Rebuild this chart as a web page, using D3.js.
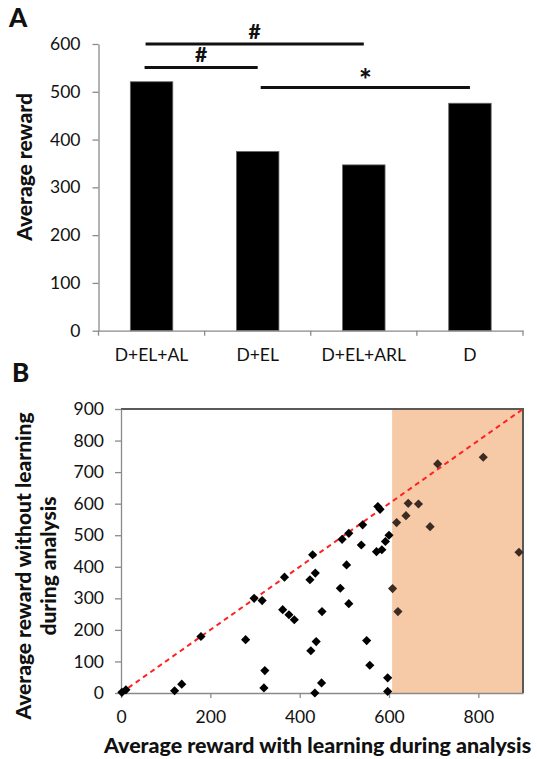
<!DOCTYPE html>
<html>
<head>
<meta charset="utf-8">
<script src="https://cdn.jsdelivr.net/npm/d3@7"></script>
<style>
  body { margin: 0; background: #fff; }
  text { font-family: Lato, "Open Sans", sans-serif; fill: #111; }
  .axis path, .axis line { stroke: #8a8a8a; stroke-width: 1.3px; }
  .axis text { font-size: 17.5px; fill: #111; }
  .title { font-size: 21px; font-weight: 900; }
</style>
</head>
<body>
<svg id="chart" width="537" height="759"></svg>
<script>
// ---- panel A ----
var categories = ["D+EL+AL", "D+EL", "D+EL+ARL", "D"];
var avgReward = [521, 375, 347, 476];
var yTicksA = [0, 100, 200, 300, 400, 500, 600];

// significance brackets
var sigFrom = ["D+EL+AL", "D+EL+AL", "D+EL"];
var sigTo = ["D+EL+ARL", "D+EL", "D"];
var sigLevel = [600, 551, 509];
var sigMark = ["#", "#", "*"];

// ---- panel B ----
var withLearning = [2, 11, 120, 136, 179, 279, 298, 316, 320, 322, 362, 366, 376, 388,
  423, 425, 429, 435, 434, 437, 450, 449, 491, 495, 505, 510, 510, 538, 541, 550, 557,
  572, 575, 580, 584, 592, 600, 597, 597, 608, 617, 620, 638, 643, 666, 692, 709, 811, 891];
var withoutLearning = [2, 10, 7, 28, 179, 169, 300, 293, 16, 71, 264, 367, 248, 232,
  359, 134, 438, 380, 0, 163, 258, 32, 332, 487, 406, 506, 283, 469, 533, 166, 88,
  448, 591, 582, 454, 480, 500, 48, 5, 331, 540, 258, 562, 601, 599, 527, 726, 747, 446];
var xTicksB = [0, 200, 400, 600, 800];
var yTicksB = [0, 100, 200, 300, 400, 500, 600, 700, 800, 900];
var shadeFrom = 607;

var svg = d3.select("#chart");

// ================= A =================
var xA = d3.scaleBand().domain(categories).range([98.5, 523]).paddingInner(0.6).paddingOuter(0.3);
var yA = d3.scaleLinear().domain([0, 600]).range([330.7, 44]);

svg.append("text").attr("x", 9).attr("y", 27)
  .style("font-size", "26px").style("font-weight", 900).text("A");

svg.selectAll(".bar").data(avgReward).enter().append("rect")
  .attr("class", "bar")
  .attr("x", (d, i) => xA(categories[i]))
  .attr("width", xA.bandwidth())
  .attr("y", d => yA(d))
  .attr("height", d => yA(0) - yA(d))
  .attr("fill", "#000").attr("stroke", "#666").attr("stroke-width", 0.8);

svg.append("g").attr("class", "axis")
  .attr("transform", "translate(98.5,0)")
  .call(d3.axisLeft(yA).tickValues(yTicksA).tickSize(6).tickSizeOuter(0).tickPadding(12));

var gx = svg.append("g").attr("class", "axis")
  .attr("transform", "translate(0,330.7)")
  .call(d3.axisBottom(xA).tickSize(0).tickPadding(18));
// ticks sit on the band boundaries
gx.selectAll(".bound").data(d3.range(categories.length + 1)).enter().append("line")
  .attr("class", "bound")
  .attr("x1", i => xA.range()[0] + i * xA.step())
  .attr("x2", i => xA.range()[0] + i * xA.step())
  .attr("y1", 0).attr("y2", 5);

svg.append("text").attr("class", "title")
  .attr("transform", "translate(32,167) rotate(-90)")
  .attr("text-anchor", "middle")
  .text("Average reward");

var offFrom = [-6, -7, 3];
sigLevel.forEach(function(lv, i) {
  var x1 = xA(sigFrom[i]) + xA.bandwidth() / 2 + offFrom[i];
  var x2 = xA(sigTo[i]) + xA.bandwidth() / 2;
  svg.append("line")
    .attr("x1", x1).attr("x2", x2)
    .attr("y1", yA(lv)).attr("y2", yA(lv))
    .attr("stroke", "#111").attr("stroke-width", 3);
  var star = sigMark[i] == "*";
  svg.append("text")
    .attr("x", (x1 + x2) / 2).attr("y", yA(lv) - (star ? -4 : 5))
    .attr("text-anchor", "middle")
    .style("font-size", star ? "30px" : "21px").style("font-weight", 900)
    .text(sigMark[i]);
});

// ================= B =================
var xB = d3.scaleLinear().domain([0, 900]).range([121, 523]);
var yB = d3.scaleLinear().domain([0, 900]).range([693, 409]);

svg.append("text").attr("x", 12).attr("y", 382)
  .style("font-size", "26px").style("font-weight", 900).text("B");

svg.append("rect")
  .attr("x", xB(shadeFrom)).attr("y", yB(900))
  .attr("width", xB(900) - xB(shadeFrom)).attr("height", yB(0) - yB(900))
  .attr("fill", "#f6c9a7");

// frame top/right
svg.append("path")
  .attr("d", "M" + xB(0) + "," + yB(900) + "H" + xB(900) + "V" + yB(0))
  .attr("fill", "none").attr("stroke", "#595959").attr("stroke-width", 2);

svg.append("g").attr("class", "axis")
  .attr("transform", "translate(0," + yB(0) + ")")
  .call(d3.axisBottom(xB).tickValues(xTicksB).tickSize(5).tickSizeOuter(0).tickPadding(13));

svg.append("g").attr("class", "axis")
  .attr("transform", "translate(" + xB(0) + ",0)")
  .call(d3.axisLeft(yB).tickValues(yTicksB).tickSize(6).tickSizeOuter(0).tickPadding(11));

svg.append("line")
  .attr("x1", xB(0)).attr("y1", yB(0))
  .attr("x2", xB(900)).attr("y2", yB(900))
  .attr("stroke", "#ff2121").attr("stroke-width", 2)
  .attr("stroke-dasharray", "5,4");

var pts = withLearning.map((v, i) => ({x: v, y: withoutLearning[i]}));
svg.selectAll(".pt").data(pts).enter().append("path")
  .attr("class", "pt")
  .attr("d", d3.symbol(d3.symbolSquare, 42))
  .attr("transform", d => "translate(" + xB(d.x) + "," + yB(d.y) + ") rotate(45)")
  .attr("fill", d => d.x >= shadeFrom ? "#3b2b20" : "#000");

svg.append("text").attr("class", "title")
  .attr("transform", "rotate(-90)")
  .attr("text-anchor", "middle")
  .selectAll("tspan")
  .data(["Average reward without learning", "during analysis"])
  .enter().append("tspan")
  .attr("x", -566).attr("y", (d, i) => 31 + i * 25)
  .text(d => d);

svg.append("text").attr("class", "title")
  .attr("x", 104).attr("y", 753)
  .style("font-size", "21.4px")
  .text("Average reward with learning during analysis");
</script>
</body>
</html>
